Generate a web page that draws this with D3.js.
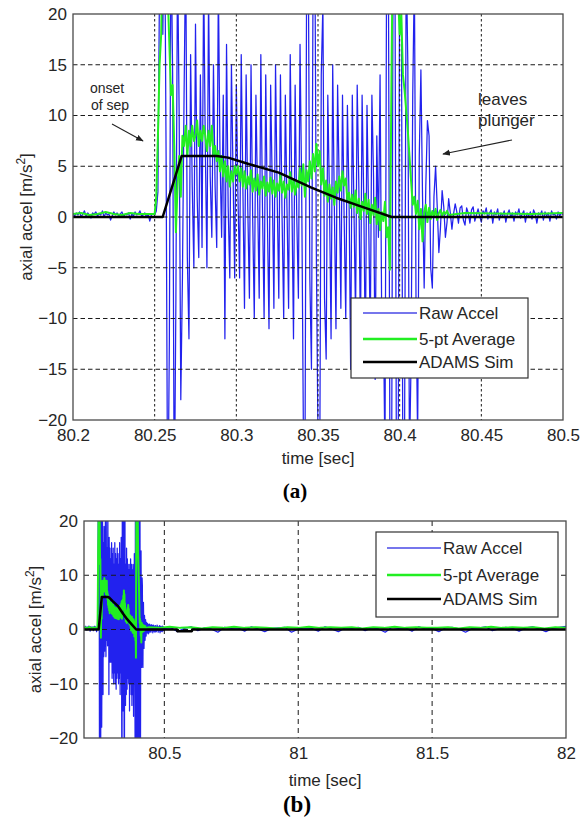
<!DOCTYPE html>
<html><head><meta charset="utf-8">
<script src="https://cdn.jsdelivr.net/npm/d3@7"></script>
<style>
body{margin:0;background:#fff;}
text{font-family:"Liberation Sans",Arial,sans-serif;fill:#262626;}
</style></head>
<body><svg id="chart" width="587" height="819"></svg>
<script>
// ---------------- DATA ----------------
const seriesNames = ["Raw Accel", "5-pt Average", "ADAMS Sim"];

// raw acceleration, sampled every 1 ms from 80.200 s to 80.500 s
const rawStart = 80.2, rawStep = 0.001;
const rawAccel = [
  0.3,0.1,0.4,0.2,0.5,0.0,0.3,0.6,0.1,0.4,
  0.2,-0.1,0.4,0.3,0.5,0.1,0.3,0.2,0.6,0.0,
  0.4,0.2,0.3,-0.3,0.1,0.5,0.2,0.4,0.1,0.3,
  0.5,0.0,0.3,0.2,0.4,-0.2,0.3,0.1,0.5,0.2,
  0.3,0.6,0.1,0.2,0.4,0.0,0.3,-0.4,0.2,0.3,
  0.2,0.6,2.5,24,31,18,33,6,-32,-12,
  29,14,-30,-8,26,10,-18,-6,12,27,
  -4,-12,16,3,-5,19,2,-4,14,-3,
  24,7,-5,22,4,-2,15,3,-3,23,
  6,-2,12,-12,17,1,-6,15,4,-6,
  13,2,-6,16,3,-9,14,1,-8,15,
  0,-10,12,2,-8,16,1,-10,14,0,
  -11,13,3,-9,15,2,-8,14,0,-10,
  12,1,-9,16,2,-12,13,0,-8,17,
  3,-20,-26,22,28,-6,-15,25,30,-4,
  -22,-28,14,21,-8,-14,12,2,-12,15,
  1,-11,13,3,-9,12,0,-10,11,2,
  -15,12,1,-10,13,3,-12,12,2,-14,
  11,0,-12,12,4,-16,8,-2,14,-10,
  -9,-24,25,30,-22,-30,27,32,-25,-31,
  28,24,-28,-22,26,15,-24,-14,12,24,
  -8,-22,6,14.5,2,-7,3,9.5,8,-5,
  -7,2,5,1,-3.5,-1,2.6,1,-2,-0.5,
  1.8,0.4,-1.2,0.3,1.3,0.5,-0.6,0.9,1.1,-0.3,
  -0.8,0.9,0.4,-0.6,0.7,1.0,-0.4,0.2,0.8,0.1,
  -0.5,0.6,0.3,0.9,-0.2,0.4,0.7,-0.6,0.5,0.2,
  0.8,-0.3,0.4,0.1,0.6,-0.5,0.3,0.7,0.0,0.4,
  -0.4,0.5,0.2,0.8,-0.1,0.3,0.6,-0.5,0.4,0.1,
  0.5,-0.2,0.7,0.3,-0.6,0.4,0.2,0.6,-0.3,0.5,
  0.1,0.4,-0.4,0.6,0.2,0.3,-0.2,0.5,0.1,0.4,
  0.2
];
// raw acceleration tail, every 25 ms from 80.525 s to 82.0 s
const rawTailStart = 80.525, rawTailStep = 0.025;
const rawTail = [
  0.3,-0.4,0.2,0.5,-0.2,0.3,0.1,-0.5,0.4,0.2,
  0.3,-0.3,0.5,0.1,-0.4,0.2,0.3,0.4,-0.5,0.1,
  0.3,0.2,-0.3,0.5,0.1,-0.4,0.3,0.2,0.4,-0.2,
  0.3,0.1,-0.5,0.4,0.2,0.3,-0.3,0.5,0.1,0.2,
  -0.4,0.3,0.4,0.1,-0.5,0.2,0.3,0.5,-0.2,0.1,
  0.4,0.2,-0.3,0.3,0.5,0.1,-0.4,0.2,0.4,0.6
];

// 5-point average
const avgPreStart = 80.2, avgPreStep = 0.005;
const avgPre = [0.3,0.4,0.2,0.3,0.5,0.3,0.2,0.4,0.3,0.3];
const avgMainStart = 80.25, avgMainStep = 0.001;
const avgMain = [
  0.3,2,8,15,18,28,30,26,22,17,
  12,13,7,-1.5,3,6,2,8,7,9,
  6,8.5,7,9,7.5,8,9.5,7,8.5,7.5,
  9,8,6.5,8.5,7,9,6,7,5.5,6.5,
  4.5,6,4,5.5,3.5,5,3,4.5,3.5,5,
  4.2,5,3.5,4.8,3,4.5,2.8,4,3.2,4.6,
  2.5,3.8,2.6,4.2,2.2,3.5,2.8,4,2.1,3.4,
  2.5,3.9,2.3,3.6,2,3.3,2.6,4.1,2.4,3.5,
  1.9,3.2,2.7,4.4,2.5,3.7,2.2,3.4,2.9,4.8,
  3.1,5.2,2,4.6,3.5,5.5,3.8,6.2,4.5,7.2,
  5,6.5,3.2,4.8,2.1,3.6,1.5,3.2,1.8,2.9,
  1.2,3.5,2.4,4,2.6,4.5,3.1,3.8,1.6,2.4,
  0.9,2.2,1,2.6,0.4,1.8,-0.2,1.5,0.6,2.3,
  0.3,1.7,-0.6,1.2,0.2,1.9,-0.7,0.8,-1.3,0.5,
  -0.4,1.5,-2,-1,-5.2,14,30,27,31,22,
  18,20,14,12.5,10.5,8.5,6,3.5,1.2,2,
  0.3,1.6,-1.2,0.8,-2.4,0.5,1.2,-0.5,0.9,-0.2,
  0.6,0.1,0.8,-0.3,0.4,0.7,0.1,0.5,0.3,0.6,
  0.2
];
const avgTailStart = 80.44, avgTailStep = 0.04;
const avgTail = [
  0.4,0.3,0.5,0.3,0.4,0.2,0.4,0.3,0.5,0.3,
  0.4,0.3,0.2,0.4,0.3,0.5,0.3,0.4,0.3,0.4,
  0.2,0.4,0.3,0.5,0.3,0.4,0.3,0.3,0.4,0.2,
  0.4,0.3,0.5,0.3,0.4,0.3,0.4,0.2,0.4,0.3
];

// ADAMS simulation
const simTime  = [80.2, 80.2549, 80.2665, 80.288, 80.295, 80.308, 80.326, 80.346, 80.361, 80.378, 80.3951, 80.547, 80.548, 80.603, 80.604, 82.0];
const simAccel = [0,    0,       6,       6,      5.85,   5.2,    4.37,   2.9,    1.9,    0.95,   0,       0,      -0.3,   -0.3,   0,      0];

// axis ticks
const xTicksA = [80.2, 80.25, 80.3, 80.35, 80.4, 80.45, 80.5];
const xTickLabelsA = ["80.2", "80.25", "80.3", "80.35", "80.4", "80.45", "80.5"];
const yTicksA = [-20, -15, -10, -5, 0, 5, 10, 15, 20];
const xTicksB = [80.5, 81, 81.5, 82];
const xTickLabelsB = ["80.5", "81", "81.5", "82"];
const yTicksB = [-20, -10, 0, 10, 20];

// ---------------- BUILD SERIES ----------------
const rawSeries = rawAccel.map((v, i) => ({t: rawStart + i * rawStep, v}))
  .concat(rawTail.map((v, i) => ({t: rawTailStart + i * rawTailStep, v})));
const avgSeries = avgPre.map((v, i) => ({t: avgPreStart + i * avgPreStep, v}))
  .concat(avgMain.map((v, i) => ({t: avgMainStart + i * avgMainStep, v})))
  .concat(avgTail.map((v, i) => ({t: avgTailStart + i * avgTailStep, v})));
const simSeries = simTime.map((t, i) => ({t, v: simAccel[i]}));

const colors = ["#2222ee", "#22ee22", "#000000"];
const widths = [1.25, 2, 2.5];
const legendWidths = [1.6, 2.6, 2.6];

const svg = d3.select("#chart");

function drawPanel(cfg) {
  const g = svg.append("g");
  const x = d3.scaleLinear().domain(cfg.xDomain).range([cfg.left, cfg.right]);
  const y = d3.scaleLinear().domain([-20, 20]).range([cfg.bottom, cfg.top]);

  g.append("rect").attr("x", cfg.left).attr("y", cfg.top)
    .attr("width", cfg.right - cfg.left).attr("height", cfg.bottom - cfg.top)
    .attr("fill", "#fff");

  const clipId = "clip" + cfg.id;
  svg.append("clipPath").attr("id", clipId).append("rect")
    .attr("x", cfg.left).attr("y", cfg.top)
    .attr("width", cfg.right - cfg.left).attr("height", cfg.bottom - cfg.top);

  const plot = g.append("g").attr("clip-path", `url(#${clipId})`);
  const line = d3.line().x(d => x(d.t)).y(d => y(d.v));
  const rawData = rawSeries.filter(d => d.t >= cfg.xDomain[0] - 1e-9 && d.t <= cfg.xDomain[1] + 1e-9);
  const avgData = avgSeries.filter(d => d.t >= cfg.xDomain[0] - 1e-9 && d.t <= cfg.xDomain[1] + 0.05);

  plot.append("path").datum(rawData).attr("d", line)
    .attr("fill", "none").attr("stroke", colors[0]).attr("stroke-width", widths[0])
    .attr("stroke-linejoin", "round");

  // grid
  const grid = plot.append("g").attr("stroke", "#1a1a1a").attr("stroke-width", 1).attr("fill", "none");
  cfg.yTicks.filter(v => v > -20 && v < 20).forEach(v => {
    grid.append("line").attr("x1", cfg.left).attr("x2", cfg.right)
      .attr("y1", y(v)).attr("y2", y(v)).attr("stroke-dasharray", cfg.dashH);
  });
  cfg.xTicks.filter(v => v > cfg.xDomain[0] && v < cfg.xDomain[1]).forEach(v => {
    grid.append("line").attr("y1", cfg.top).attr("y2", cfg.bottom)
      .attr("x1", x(v)).attr("x2", x(v)).attr("stroke-dasharray", cfg.dashV);
  });

  plot.append("path").datum(avgData).attr("d", line)
    .attr("fill", "none").attr("stroke", colors[1]).attr("stroke-width", widths[1])
    .attr("stroke-linejoin", "round");
  plot.append("path").datum(simSeries).attr("d", line)
    .attr("fill", "none").attr("stroke", colors[2]).attr("stroke-width", widths[2])
    .attr("stroke-linejoin", "round");

  // axes box
  g.append("rect").attr("x", cfg.left).attr("y", cfg.top)
    .attr("width", cfg.right - cfg.left).attr("height", cfg.bottom - cfg.top)
    .attr("fill", "none").attr("stroke", "#4a4a4a").attr("stroke-width", 1.3);

  // tick labels via d3 axes (no tick lines)
  const xAxis = d3.axisBottom(x).tickValues(cfg.xTicks)
    .tickFormat((d, i) => cfg.xTickLabels[i]).tickSize(0).tickPadding(cfg.xPad);
  const ax = g.append("g").attr("transform", `translate(0,${cfg.bottom})`).call(xAxis);
  ax.select(".domain").remove();
  ax.selectAll("text").attr("font-size", cfg.font).attr("fill", "#262626")
    .attr("font-family", "Liberation Sans, Arial, sans-serif");

  const yAxis = d3.axisLeft(y).tickValues(cfg.yTicks).tickFormat(d3.format("d"))
    .tickSize(0).tickPadding(cfg.yPad);
  const ay = g.append("g").attr("transform", `translate(${cfg.left},0)`).call(yAxis);
  ay.select(".domain").remove();
  ay.selectAll("text").attr("font-size", cfg.font).attr("fill", "#262626")
    .attr("font-family", "Liberation Sans, Arial, sans-serif");

  // axis titles
  g.append("text").attr("x", (cfg.left + cfg.right) / 2).attr("y", cfg.xTitleY)
    .attr("text-anchor", "middle").attr("font-size", cfg.font).text("time [sec]");
  const yt = g.append("text")
    .attr("transform", `translate(${cfg.yTitleX},${(cfg.top + cfg.bottom) / 2}) rotate(-90)`)
    .attr("text-anchor", "middle").attr("font-size", cfg.font);
  yt.append("tspan").text("axial accel [m/s");
  yt.append("tspan").attr("dy", -7).attr("font-size", cfg.font * 0.7).text("2");
  yt.append("tspan").attr("dy", 7).text("]");

  // legend
  const L = cfg.legend;
  const lg = g.append("g");
  lg.append("rect").attr("x", L.x0).attr("y", L.y0).attr("width", L.x1 - L.x0).attr("height", L.y1 - L.y0)
    .attr("fill", "#fff").attr("stroke", "#333").attr("stroke-width", 1.2);
  seriesNames.forEach((name, i) => {
    lg.append("line").attr("x1", L.lx0).attr("x2", L.lx1).attr("y1", L.rows[i]).attr("y2", L.rows[i])
      .attr("stroke", i === 0 ? "#4848e6" : colors[i]).attr("stroke-width", legendWidths[i]);
    lg.append("text").attr("x", L.lx1 + 2).attr("y", L.rows[i]).attr("dy", "0.36em")
      .attr("font-size", cfg.font).text(name);
  });

  // caption
  g.append("text").attr("x", cfg.capX).attr("y", cfg.capY).attr("text-anchor", "middle")
    .attr("font-weight", "bold").attr("font-size", cfg.capSize)
    .style("font-family", "Liberation Serif, serif").style("fill", "#000")
    .text(cfg.caption);

  return {x, y, g};
}

const A = drawPanel({
  id: "a", left: 73, right: 563, top: 14, bottom: 420,
  xDomain: [80.2, 80.5], xTicks: xTicksA, xTickLabels: xTickLabelsA, yTicks: yTicksA,
  dashH: "4.5,3", dashV: "2.5,2.5", font: 17, xPad: 9, yPad: 6,
  xTitleY: 464, yTitleX: 32,
  legend: {x0: 351, y0: 298, x1: 528, y1: 378, lx0: 363, lx1: 417, rows: [313, 339, 362]},
  caption: "(a)", capX: 295, capY: 498, capSize: 21
});

const B = drawPanel({
  id: "b", left: 84, right: 566, top: 521, bottom: 738,
  xDomain: [80.2, 82], xTicks: xTicksB, xTickLabels: xTickLabelsB, yTicks: yTicksB,
  dashH: "5,4", dashV: "5,4", font: 17, xPad: 9, yPad: 6,
  xTitleY: 786, yTitleX: 41,
  legend: {x0: 376, y0: 532, x1: 558, y1: 617, lx0: 387, lx1: 441, rows: [548, 575, 599]},
  caption: "(b)", capX: 297, capY: 812, capSize: 23
});

// annotations (panel a)
const defs = svg.append("defs");
defs.append("marker").attr("id", "arr").attr("viewBox", "0 0 10 10").attr("refX", 9).attr("refY", 5)
  .attr("markerWidth", 7).attr("markerHeight", 7).attr("orient", "auto")
  .append("path").attr("d", "M0,1 L10,5 L0,9 z").attr("fill", "#222");

const annA = A.g.append("g");
annA.append("text").attr("x", 90).attr("y", 93).attr("font-size", 14).text("onset");
annA.append("text").attr("x", 91).attr("y", 110).attr("font-size", 14).text("of sep");
annA.append("line").attr("x1", 112).attr("y1", 124).attr("x2", 143).attr("y2", 141)
  .attr("stroke", "#222").attr("stroke-width", 1.1).attr("marker-end", "url(#arr)");
annA.append("text").attr("x", 478).attr("y", 105).attr("font-size", 17).text("leaves");
annA.append("text").attr("x", 478).attr("y", 126).attr("font-size", 17).text("plunger");
annA.append("line").attr("x1", 512).attr("y1", 140).attr("x2", 443).attr("y2", 154)
  .attr("stroke", "#222").attr("stroke-width", 1.1).attr("marker-end", "url(#arr)");
</script>
</body></html>
